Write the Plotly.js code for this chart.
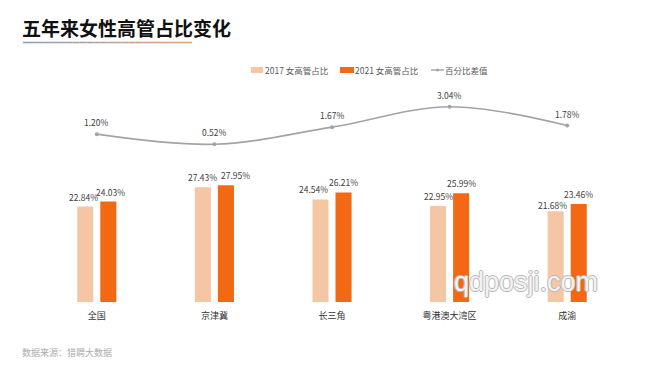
<!DOCTYPE html>
<html>
<head>
<meta charset="utf-8">
<script src="https://cdn.plot.ly/plotly-3.0.1.min.js"></script>
<style>html,body{margin:0;padding:0;background:#fff;}#chart{width:660px;height:372px;}</style>
</head>
<body>
<div id="chart"></div>
<script>
const categories = ['全国', '京津冀', '长三角', '粤港澳大湾区', '成渝'];
const share2017 = [22.84, 27.43, 24.54, 22.95, 21.68];
const share2021 = [24.03, 27.95, 26.21, 25.99, 23.46];
const diffPct = [1.20, 0.52, 1.67, 3.04, 1.78];
const seriesNames = ['2017 女高管占比', '2021 女高管占比', '百分比差值'];

// label nudges (pixels) — styling only
const nudgeX2017 = [-2, 0, -7, 0, -3.5];
const nudgeY2017 = [0, 0, 0, 0, -4];
const nudgeX2021 = [2, 10, 0, 0, 0];

const FONT = '"Noto Sans CJK SC", "Noto Sans", sans-serif';
const COL17 = '#F5C6A4', COL21 = '#F36812', COLLINE = '#A3A3A3';
const fmt = v => v.toFixed(2) + '%';

// pixel -> paper helpers (plot area: x 38..626, y 90..302)
const plotL = 38, plotW = 588, plotB = 302, plotH = 212;
const px = x => (x - plotL) / plotW;
const py = y => (plotB - y) / plotH;

const traces = [
  {type: 'bar', name: seriesNames[0], x: categories, y: share2017, marker: {color: COL17}, hoverinfo: 'skip', showlegend: false},
  {type: 'bar', name: seriesNames[1], x: categories, y: share2021, marker: {color: COL21}, hoverinfo: 'skip', showlegend: false},
  {
    type: 'scatter', mode: 'lines+markers', name: seriesNames[2], x: categories, y: diffPct, yaxis: 'y2',
    line: {color: COLLINE, width: 1.6, shape: 'spline', smoothing: 1},
    marker: {color: COLLINE, size: 4}, cliponaxis: false, hoverinfo: 'skip', showlegend: false
  }
];

const annotations = [];
const labelFont = {size: 8.5, color: '#404040', family: FONT};
categories.forEach((c, i) => {
  annotations.push({x: c, y: share2017[i], xref: 'x', yref: 'y', text: fmt(share2017[i]), showarrow: false,
    xanchor: 'center', yanchor: 'middle', xshift: -11.5 + nudgeX2017[i], yshift: 10 + nudgeY2017[i], font: labelFont});
  annotations.push({x: c, y: share2021[i], xref: 'x', yref: 'y', text: fmt(share2021[i]), showarrow: false,
    xanchor: 'center', yanchor: 'middle', xshift: 11.5 + nudgeX2021[i], yshift: 10, font: labelFont});
  annotations.push({x: c, y: diffPct[i], xref: 'x', yref: 'y2', text: fmt(diffPct[i]), showarrow: false,
    xanchor: 'center', yanchor: 'middle', yshift: 12, font: labelFont});
});

// custom legend
const legFont = {size: 8.5, color: '#595959', family: FONT};
const legY = 70;
[[265, seriesNames[0]], [355, seriesNames[1]], [445, seriesNames[2]]].forEach(([x, t]) => {
  annotations.push({text: t, xref: 'paper', yref: 'paper', x: px(x - 2), y: py(legY), xanchor: 'left', yanchor: 'middle', showarrow: false, font: legFont});
});

annotations.push({
  text: '数据来源：猎聘大数据', xref: 'paper', yref: 'paper',
  x: px(20), xanchor: 'left', y: py(352), yanchor: 'middle',
  showarrow: false, font: {size: 9, color: '#ABABAB', family: FONT}
});
annotations.push({
  text: 'qdposji.com', xref: 'paper', yref: 'paper',
  x: px(526), xanchor: 'center', y: py(282), yanchor: 'middle', showarrow: false,
  font: {size: 27, color: '#f2f2f2', family: '"Liberation Sans", Arial, sans-serif',
    shadow: '1px 0 0 #b8b8b8, -1px 0 0 #b8b8b8, 0 1px 0 #b8b8b8, 0 -1px 0 #b8b8b8'}
});

const shapes = [
  {type: 'rect', xref: 'paper', yref: 'paper', x0: px(251), x1: px(263), y0: py(73), y1: py(67), line: {width: 0}, fillcolor: COL17},
  {type: 'rect', xref: 'paper', yref: 'paper', x0: px(340), x1: px(354), y0: py(73), y1: py(67), line: {width: 0}, fillcolor: COL21},
  {type: 'line', xref: 'paper', yref: 'paper', x0: px(431), x1: px(444), y0: py(70), y1: py(70), line: {color: COLLINE, width: 1.4}},
  {type: 'circle', xref: 'paper', yref: 'paper', x0: px(436), x1: px(439), y0: py(71.5), y1: py(68.5), line: {width: 0}, fillcolor: COLLINE}
];

// gradient underline under title (short segments)
const ulStart = 23, ulEnd = 192, nSeg = 24;
const c0 = [140, 160, 190], c1 = [232, 160, 115];
for (let i = 0; i < nSeg; i++) {
  const t = i / (nSeg - 1);
  const c = c0.map((v, k) => Math.round(v + (c1[k] - v) * t));
  const a = ulStart + (ulEnd - ulStart) * i / nSeg;
  const b = ulStart + (ulEnd - ulStart) * (i + 1) / nSeg;
  shapes.push({type: 'line', xref: 'paper', yref: 'paper', x0: px(a), x1: px(b), y0: py(42.5), y1: py(42.5),
    line: {color: `rgb(${c[0]},${c[1]},${c[2]})`, width: 1.6}});
}

const layout = {
  width: 660, height: 372,
  margin: {l: 38, r: 34, t: 90, b: 70},
  paper_bgcolor: '#ffffff', plot_bgcolor: '#ffffff',
  font: {family: FONT, size: 9, color: '#333333'},
  title: {
    text: '<b>五年来女性高管占比变化</b>',
    x: 22 / 660, xanchor: 'left', xref: 'container',
    y: 1 - 29 / 372, yanchor: 'middle', yref: 'container',
    font: {family: FONT, size: 19, color: '#111111'}
  },
  barmode: 'group', bargap: 0.608, bargroupgap: 0.304,
  xaxis: {
    type: 'category', showgrid: false, zeroline: false, showline: false, ticks: '',
    tickfont: {size: 9, color: '#333333', family: FONT}, ticklabelstandoff: 7, fixedrange: true
  },
  yaxis: {range: [0, 50.7], visible: false, showgrid: false, zeroline: false, fixedrange: true},
  yaxis2: {range: [-10.05, 4.16], overlaying: 'y', side: 'right', visible: false, showgrid: false, zeroline: false, fixedrange: true},
  showlegend: false,
  shapes: shapes,
  annotations: annotations
};

Plotly.newPlot('chart', traces, layout, {displayModeBar: false, staticPlot: true});
</script>
</body>
</html>
